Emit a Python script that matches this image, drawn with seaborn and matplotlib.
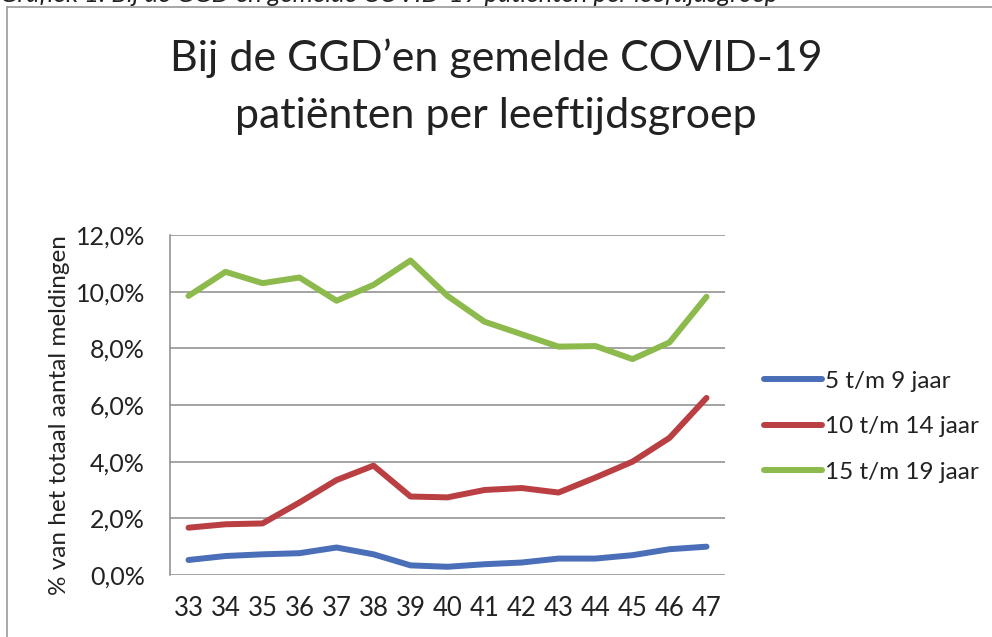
import matplotlib
matplotlib.use("Agg")
import matplotlib.pyplot as plt
import seaborn as sns
import pandas as pd
from matplotlib.ticker import FuncFormatter
from matplotlib.lines import Line2D

weeks = [33, 34, 35, 36, 37, 38, 39, 40, 41, 42, 43, 44, 45, 46, 47]
age_5_9 = [0.53, 0.67, 0.73, 0.77, 0.97, 0.73, 0.34, 0.29, 0.38, 0.44, 0.58, 0.58, 0.70, 0.91, 1.00]
age_10_14 = [1.67, 1.79, 1.82, 2.56, 3.35, 3.86, 2.77, 2.74, 3.00, 3.07, 2.91, 3.44, 4.00, 4.84, 6.25]
age_15_19 = [9.85, 10.70, 10.30, 10.50, 9.68, 10.24, 11.10, 9.85, 8.94, 8.50, 8.06, 8.08, 7.62, 8.21, 9.82]
series_names = ["5 t/m 9 jaar", "10 t/m 14 jaar", "15 t/m 19 jaar"]
y_ticks = [0, 2, 4, 6, 8, 10, 12]

colors = ["#4A6FB8", "#BA3F43", "#8DBA4C"]

df = pd.concat([
    pd.DataFrame({"week": weeks, "pct": vals, "groep": name})
    for name, vals in zip(series_names, [age_5_9, age_10_14, age_15_19])
])

sns.set_theme(style="white")
plt.rcParams["font.family"] = ["Lato", "DejaVu Sans"]

fig = plt.figure(figsize=(9.92, 6.37), dpi=100)
ax = fig.add_axes([170 / 992, 1 - 575 / 637, 555 / 992, (575 - 235) / 637])

sns.lineplot(data=df, x="week", y="pct", hue="groep", palette=colors,
             linewidth=4.3, ax=ax, legend=False, solid_capstyle="round")

ax.set_xlim(32.5, 47.5)
ax.set_ylim(0, 12)
ax.set_xticks(weeks)
ax.set_xticklabels([str(w) for w in weeks])
ax.set_yticks(y_ticks)
ax.yaxis.set_major_formatter(FuncFormatter(lambda v, p: f"{v:.1f}%".replace(".", ",")))
ax.grid(axis="y", color="#8a8a8a", linewidth=1.1)
ax.grid(axis="x", visible=False)
for s in ["top", "right", "bottom"]:
    ax.spines[s].set_visible(False)
ax.spines["left"].set_color("#8a8a8a")
ax.spines["left"].set_linewidth(1.1)
ax.tick_params(axis="x", length=0, pad=15, labelsize=18.5, labelcolor="#222222")
ax.tick_params(axis="y", length=0, pad=18, labelsize=18, labelcolor="#222222")
ax.set_xlabel("")
ax.set_ylabel("% van het totaal aantal meldingen", fontsize=17.5, color="#222222")
ax.yaxis.set_label_coords(-100 / 555, 0.47)

handles = [Line2D([0], [0], color=c, lw=4.3, solid_capstyle="round") for c in colors]
leg = fig.legend(handles, series_names, loc="upper left",
                 bbox_to_anchor=(742 / 992, 1 - 349 / 637), frameon=False,
                 fontsize=17.5, handlelength=2.4, handletextpad=0.1,
                 labelspacing=1.0)
for t in leg.get_texts():
    t.set_color("#222222")

fig.text(0.5, 1 - 58 / 637, "Bij de GGD\u2019en gemelde COVID-19", ha="center", va="center",
         fontsize=31, color="#222222")
fig.text(0.5, 1 - 116 / 637, "patiënten per leeftijdsgroep", ha="center", va="center",
         fontsize=31, color="#222222")

fig.text(0, 1 - 2 / 637, "Grafiek 1: Bij de GGD en gemelde COVID-19 patiënten per leeftijdsgroep",
         ha="left", va="baseline", fontsize=18.5, style="italic", color="#222222")

fig.add_artist(Line2D([7 / 992, 1.0], [1 - 7 / 637, 1 - 7 / 637], color="#9a9a9a", lw=1.2,
                      transform=fig.transFigure))
fig.add_artist(Line2D([7 / 992, 7 / 992], [1 - 7 / 637, 0], color="#9a9a9a", lw=1.2,
                      transform=fig.transFigure))

fig.savefig("out.png", dpi=100)
